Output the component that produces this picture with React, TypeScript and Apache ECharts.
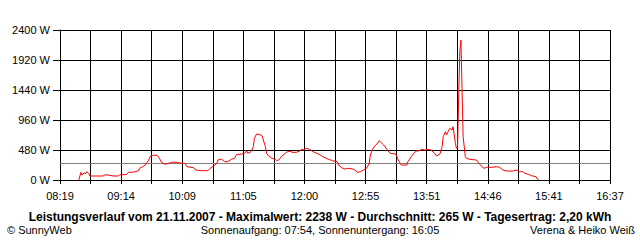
import React, { useEffect, useRef } from "react";
import * as echarts from "echarts";

const tickLabels = ["08:19", "09:14", "10:09", "11:05", "12:00", "12:55", "13:51", "14:46", "15:41", "16:37"];
const axisStartMin = 8 * 60 + 19;
const axisEndMin = 16 * 60 + 37;
const gridSteps = 18;
const averageW = 265;
const yTicks = [0, 480, 960, 1440, 1920, 2400];

const times = [
  "08:36", "08:38", "08:39", "08:41", "08:42", "08:43", "08:45", "08:46", "08:58", "09:00",
  "09:04", "09:07", "09:12", "09:13", "09:19", "09:21", "09:24", "09:27", "09:30", "09:31",
  "09:34", "09:37", "09:39", "09:41", "09:43", "09:47", "09:49", "09:51", "09:54", "09:57",
  "10:01", "10:05", "10:09", "10:12", "10:14", "10:20", "10:22", "10:27", "10:33", "10:35",
  "10:38", "10:41", "10:42", "10:45", "10:48", "10:51", "10:54", "10:57", "10:59", "11:02",
  "11:06", "11:08", "11:09", "11:12", "11:14", "11:15", "11:17", "11:19", "11:21", "11:22",
  "11:25", "11:26", "11:28", "11:31", "11:34", "11:35", "11:37", "11:40", "11:44", "11:47",
  "11:49", "11:53", "11:56", "11:58", "11:59", "12:02", "12:05", "12:08", "12:13", "12:17",
  "12:22", "12:26", "12:30", "12:32", "12:34", "12:37", "12:40", "12:44", "12:46", "12:48",
  "12:51", "12:54", "12:57", "12:59", "13:00", "13:02", "13:04", "13:06", "13:08", "13:09",
  "13:12", "13:15", "13:18", "13:23", "13:25", "13:27", "13:28", "13:33", "13:34", "13:37",
  "13:40", "13:42", "13:45", "13:46", "13:49", "13:52", "13:55", "13:58", "14:00", "14:03",
  "14:05", "14:06", "14:08", "14:09", "14:11", "14:12", "14:14", "14:15", "14:17", "14:18",
  "14:19", "14:20", "14:21", "14:22", "14:23", "14:24", "14:26", "14:27", "14:30", "14:36",
  "14:38", "14:41", "14:43", "14:45", "14:50", "14:54", "14:57", "15:00", "15:03", "15:09",
  "15:12", "15:15", "15:18", "15:20", "15:23", "15:26", "15:30", "15:32",
];

const watts = [
  0, 123, 80, 117, 96, 133, 107, 64, 64, 85,
  75, 64, 64, 85, 85, 123, 123, 133, 149, 187,
  213, 256, 309, 384, 395, 395, 347, 283, 251, 267,
  283, 283, 267, 267, 213, 197, 160, 149, 149, 187,
  224, 267, 320, 336, 293, 293, 331, 347, 411, 411,
  427, 464, 427, 453, 533, 667, 736, 731, 720, 704,
  533, 427, 384, 347, 331, 309, 320, 384, 443, 464,
  443, 443, 464, 496, 480, 507, 491, 453, 416, 373,
  331, 309, 293, 224, 197, 176, 187, 176, 160, 123,
  133, 160, 197, 267, 400, 491, 544, 576, 629, 613,
  560, 491, 427, 416, 331, 267, 240, 240, 293, 373,
  443, 464, 469, 491, 480, 491, 480, 427, 384, 416,
  533, 693, 773, 720, 800, 827, 800, 853, 587, 507,
  533, 1360, 2053, 2238, 1467, 693, 373, 347, 331, 320,
  277, 213, 187, 203, 203, 213, 203, 160, 144, 144,
  160, 133, 133, 107, 91, 69, 53, 0,
];

const titleText =
  "Leistungsverlauf vom 21.11.2007 - Maximalwert: 2238 W - Durchschnitt: 265 W - Tagesertrag: 2,20 kWh";
const leftFooter = "© SunnyWeb";
const centerFooter = "Sonnenaufgang: 07:54, Sonnenuntergang: 16:05";
const rightFooter = "Verena & Heiko Weiß";

const FONT = "'Liberation Sans', Arial, sans-serif";

function toMinutes(t: string): number {
  const [h, m] = t.split(":").map(Number);
  return h * 60 + m;
}

export default function App() {
  const ref = useRef<HTMLDivElement>(null);

  useEffect(() => {
    if (!ref.current) return;
    const chart = echarts.init(ref.current, undefined, { renderer: "svg" });
    const step = (axisEndMin - axisStartMin) / gridSteps;
    const data = times.map((t, i) => [(toMinutes(t) - axisStartMin) / step, watts[i]]);

    chart.setOption({
      animation: false,
      backgroundColor: "#ffffff",
      grid: { left: 60, top: 30, width: 550, height: 150, containLabel: false },
      xAxis: {
        type: "value",
        min: 0,
        max: gridSteps,
        interval: 1,
        axisLine: { show: true, lineStyle: { color: "#000", width: 1 } },
        axisTick: { show: true, length: 4, lineStyle: { color: "#000", width: 1 } },
        splitLine: { show: true, lineStyle: { color: "#000", width: 1 } },
        axisLabel: {
          color: "#000",
          fontFamily: FONT,
          fontSize: 11,
          margin: 10,
          showMinLabel: true,
          showMaxLabel: true,
          hideOverlap: false,
          formatter: (v: number) => {
            const r = Math.round(v);
            return r % 2 === 0 ? tickLabels[r / 2] ?? "" : "";
          },
        },
      },
      yAxis: {
        type: "value",
        min: yTicks[0],
        max: yTicks[yTicks.length - 1],
        interval: yTicks[1] - yTicks[0],
        axisLine: { show: true, lineStyle: { color: "#000", width: 1 } },
        axisTick: { show: true, length: 7, lineStyle: { color: "#000", width: 1 } },
        splitLine: { show: true, lineStyle: { color: "#000", width: 1 } },
        axisLabel: {
          color: "#000",
          fontFamily: FONT,
          fontSize: 11,
          margin: 10,
          formatter: (v: number) => `${v} W`,
        },
      },
      series: [
        {
          type: "line",
          data,
          showSymbol: false,
          symbol: "none",
          smooth: false,
          lineStyle: { color: "#ff0000", width: 1 },
          z: 3,
          markLine: {
            silent: true,
            symbol: ["none", "none"],
            label: { show: false },
            lineStyle: { color: "#808080", width: 1, type: "solid" },
            data: [{ yAxis: averageW }],
            z: 2,
          },
        },
      ],
      graphic: [
        {
          type: "text",
          x: 320,
          y: 217,
          style: {
            text: titleText,
            fontFamily: FONT,
            fontSize: 12,
            fontWeight: "bold",
            fill: "#000",
            align: "center",
            verticalAlign: "middle",
          },
        },
        {
          type: "text",
          x: 7,
          y: 230,
          style: {
            text: leftFooter,
            fontFamily: FONT,
            fontSize: 11,
            fill: "#000",
            align: "left",
            verticalAlign: "middle",
          },
        },
        {
          type: "text",
          x: 320,
          y: 230,
          style: {
            text: centerFooter,
            fontFamily: FONT,
            fontSize: 11,
            fill: "#000",
            align: "center",
            verticalAlign: "middle",
          },
        },
        {
          type: "text",
          x: 635,
          y: 230,
          style: {
            text: rightFooter,
            fontFamily: FONT,
            fontSize: 11,
            fill: "#000",
            align: "right",
            verticalAlign: "middle",
          },
        },
      ],
    });

    return () => chart.dispose();
  }, []);

  return (
    <div
      ref={ref}
      style={{ position: "fixed", left: 0, top: 0, width: 640, height: 240, background: "#fff" }}
    />
  );
}
